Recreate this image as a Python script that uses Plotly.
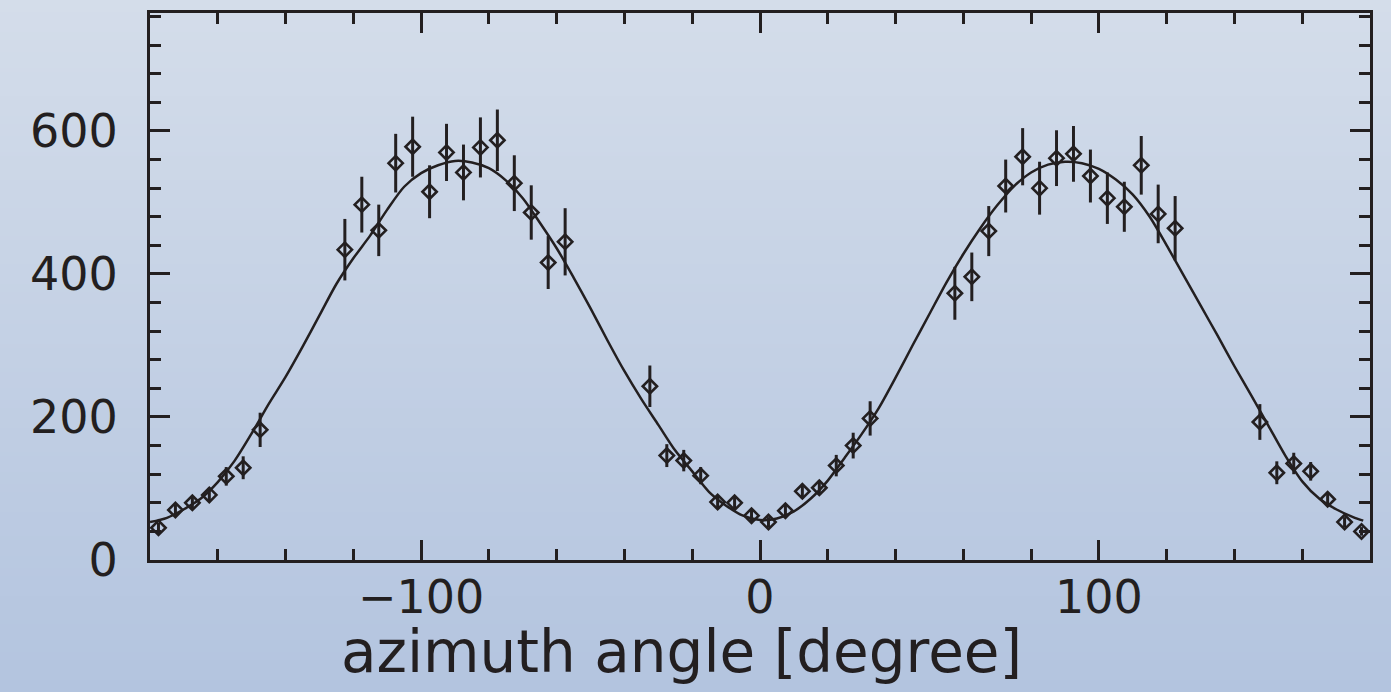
import plotly.graph_objects as go

# Measured counts per 5-degree azimuth bin
angle = [
    -177.5, -172.5, -167.5, -162.5, -157.5, -152.5, -147.5,
    -122.5, -117.5, -112.5, -107.5, -102.5, -97.5, -92.5, -87.5, -82.5,
    -77.5, -72.5, -67.5, -62.5, -57.5,
    -32.5, -27.5, -22.5, -17.5, -12.5, -7.5, -2.5, 2.5, 7.5, 12.5, 17.5,
    22.5, 27.5, 32.5,
    57.5, 62.5, 67.5, 72.5, 77.5, 82.5, 87.5, 92.5, 97.5, 102.5, 107.5,
    112.5, 117.5, 122.5,
    147.5, 152.5, 157.5, 162.5, 167.5, 172.5, 177.5,
]
counts = [
    45, 70, 80, 91, 117, 129, 182,
    434, 497, 461, 555, 578, 515, 570, 542, 577,
    587, 527, 486, 416, 445,
    243, 146, 139, 118, 81, 80, 62, 53, 69, 96, 101,
    132, 160, 198,
    373, 396, 460, 523, 564, 520, 562, 568, 537, 506, 494,
    552, 484, 464,
    193, 122, 135, 124, 85, 53, 40,
]
count_err = [
    7, 8, 9, 10, 13, 16, 24,
    43, 39, 36, 41, 42, 37, 40, 39, 42,
    43, 39, 38, 37, 47,
    29, 16, 15, 12, 9, 9, 8, 7, 8, 10, 10,
    15, 18, 24,
    37, 34, 35, 37, 40, 37, 39, 39, 37, 36, 35,
    41, 41, 45,
    25, 16, 15, 13, 9, 7, 6,
]

# Fitted distribution, sampled every 5 degrees
fit_angle = [
    -180, -175, -170, -165, -160, -155, -150, -145, -140, -135, -130,
    -125, -120, -115, -110, -105, -100, -95, -90, -85, -80, -75, -70,
    -65, -60, -55, -50, -45, -40, -35, -30, -25, -20, -15, -10, -5, 0,
    5, 10, 15, 20, 25, 30, 35, 40, 45, 50, 55, 60, 65, 70, 75, 80, 85,
    90, 95, 100, 105, 110, 115, 120, 125, 130, 135, 140, 145, 150, 155,
    160, 165, 170, 175, 178,
]
fit_counts = [
    53, 59, 71, 86, 109, 139, 177, 218, 256, 298, 342,
    386, 422, 454, 490, 522, 541, 552, 558, 556, 548, 531, 506,
    472, 436, 395, 352, 307, 264, 225, 189, 153, 124, 95, 76, 62, 56,
    58, 68, 86, 111, 143, 176, 212, 255, 300, 344, 388, 428, 464, 496, 523, 542, 553,
    557, 555, 547, 532, 511, 480, 440, 398, 356, 314, 271, 230, 188, 146,
    110, 86, 71, 60, 55,
]

x_ticks = [-100, 0, 100]
y_ticks = [0, 200, 400, 600]

INK = "#231f20"
FONT = "DejaVu Sans"
W, H = 1391, 692
M = dict(l=150, r=21, t=13, b=132)
PW = W - M["l"] - M["r"]
PH = H - M["t"] - M["b"]

TOP_RGB = (212, 221, 234)
BOTTOM_RGB = (179, 196, 223)

fig = go.Figure()

fig.add_trace(go.Scatter(
    x=fit_angle, y=fit_counts, mode="lines",
    line=dict(color=INK, width=2.5, shape="spline", smoothing=0.8),
    hoverinfo="skip", showlegend=False,
))

fig.add_trace(go.Scatter(
    x=angle, y=counts, mode="markers",
    marker=dict(symbol="diamond-open", size=11, color=INK,
                line=dict(color=INK, width=2.6)),
    error_y=dict(type="data", array=count_err, visible=True,
                 color=INK, thickness=3, width=0),
    showlegend=False,
))

# Vertical background gradient drawn as thin horizontal bands over the page
shapes = []
step = 4
for py0 in range(0, H, step):
    py1 = min(H, py0 + step + 1)
    f = (py0 + step / 2) / H
    r, g, b = (round(TOP_RGB[k] + (BOTTOM_RGB[k] - TOP_RGB[k]) * f) for k in range(3))
    shapes.append(dict(
        type="rect", xref="paper", yref="paper", layer="below",
        x0=-M["l"] / PW, x1=(PW + M["r"]) / PW,
        y0=(M["t"] + PH - py1) / PH, y1=(M["t"] + PH - py0) / PH,
        fillcolor=f"rgb({r},{g},{b})", line=dict(width=0),
    ))

axis_common = dict(
    ticks="inside", ticklen=20, tickwidth=3, tickcolor=INK,
    showline=True, linewidth=3, linecolor=INK, mirror="allticks",
    showgrid=False, zeroline=False, automargin=False,
    tickfont=dict(family=FONT, size=46, color=INK),
)

fig.update_layout(
    width=W, height=H, margin=M,
    paper_bgcolor="rgb(196,208,228)", plot_bgcolor="rgba(0,0,0,0)",
    shapes=shapes,
    xaxis=dict(
        range=[-180, 180], tickvals=x_ticks,
        minor=dict(dtick=20, tick0=0, ticks="inside", ticklen=11,
                   tickwidth=3, tickcolor=INK, showgrid=False),
        ticklabelstandoff=-5,
        **axis_common,
    ),
    yaxis=dict(
        range=[0, 765], tickvals=y_ticks,
        minor=dict(dtick=40, tick0=0, ticks="inside", ticklen=11,
                   tickwidth=3, tickcolor=INK, showgrid=False),
        ticklabelstandoff=20,
        **axis_common,
    ),
    annotations=[dict(
        text="azimuth angle [degree]", xref="paper", yref="paper",
        x=(681 - M["l"]) / PW, y=(M["t"] + PH - 652) / PH,
        xanchor="center", yanchor="middle", showarrow=False,
        font=dict(family=FONT, size=58, color=INK),
    )],
)

fig.write_html("out.html")
